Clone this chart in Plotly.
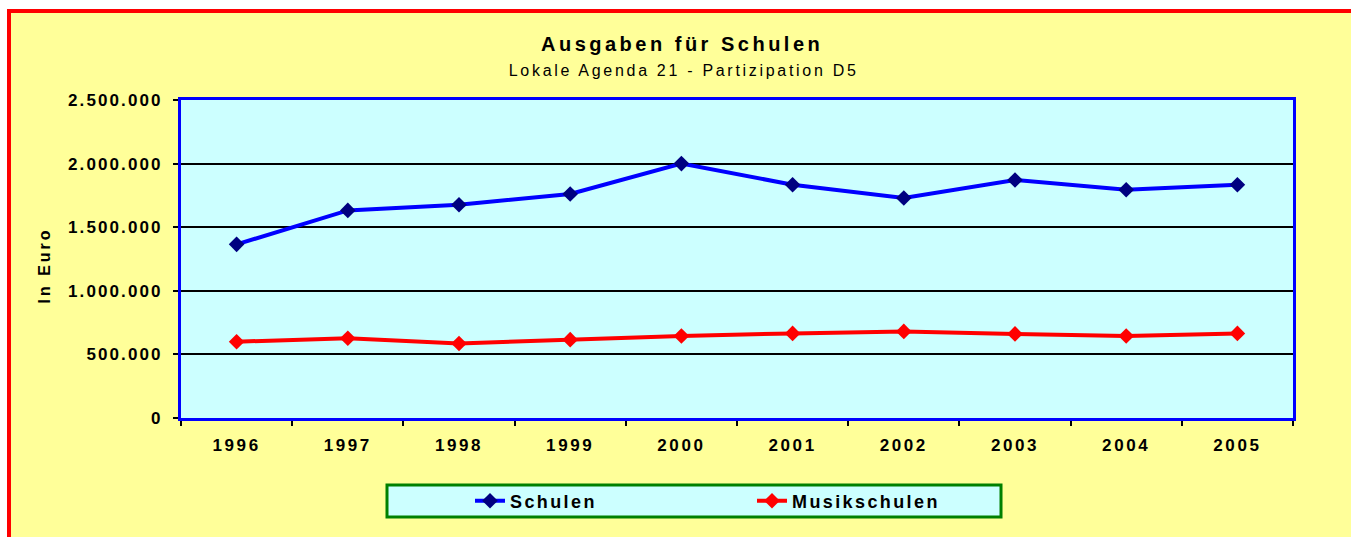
import json
import plotly.graph_objects as go

# ---- data ----
years = ["1996", "1997", "1998", "1999", "2000", "2001", "2002", "2003", "2004", "2005"]
schulen = [1365000, 1632000, 1677000, 1761000, 2000000, 1834000, 1729000, 1871000, 1794000, 1834000]
musikschulen = [600000, 627000, 586000, 616000, 645000, 665000, 681000, 661000, 645000, 665000]
y_ticks = [0, 500000, 1000000, 1500000, 2000000, 2500000]

title_text = "Ausgaben für Schulen"
subtitle_text = "Lokale Agenda 21 - Partizipation D5"
ylabel_text = "In Euro"

# ---- layout geometry (pixels) ----
W, H = 1351, 537
L, R, T, B = 181, 1293, 100, 418
PW, PH = R - L, B - T


def px(x):
    return (x - L) / PW


def py(y):
    return (B - y) / PH


FONT = "Arial, 'Liberation Sans', sans-serif"

fig = go.Figure()
fig.add_trace(go.Scatter(
    x=years, y=schulen, name="Schulen", mode="lines+markers",
    line=dict(color="#0000FF", width=4),
    marker=dict(symbol="diamond", size=12, color="#000080", line=dict(width=0)),
))
fig.add_trace(go.Scatter(
    x=years, y=musikschulen, name="Musikschulen", mode="lines+markers",
    line=dict(color="#FF0000", width=4),
    marker=dict(symbol="diamond", size=12, color="#FF0000", line=dict(width=0)),
))

shapes = [
    # white strips outside the red frame
    dict(type="rect", xref="paper", yref="paper", x0=px(0), x1=px(W), y0=py(0), y1=py(9),
         fillcolor="white", line=dict(width=0), layer="below"),
    dict(type="rect", xref="paper", yref="paper", x0=px(0), x1=px(7), y0=py(0), y1=py(H),
         fillcolor="white", line=dict(width=0), layer="below"),
    # red frame
    dict(type="rect", xref="paper", yref="paper", x0=px(9), x1=px(W + 20), y0=py(11), y1=py(H + 20),
         fillcolor="rgba(0,0,0,0)", line=dict(color="#FF0000", width=4), layer="above"),
    # legend box
    dict(type="rect", xref="paper", yref="paper", x0=px(387), x1=px(1001), y0=py(485), y1=py(517),
         fillcolor="#CCFFFF", line=dict(color="#008000", width=3), layer="above"),
]

annotations = [
    dict(text="<b>" + title_text + "</b>", x=px(682), y=py(44), xref="paper", yref="paper",
         xanchor="center", yanchor="middle", showarrow=False,
         font=dict(family=FONT, size=20, color="black")),
    dict(text=subtitle_text, x=px(683), y=py(70), xref="paper", yref="paper",
         xanchor="center", yanchor="middle", showarrow=False,
         font=dict(family=FONT, size=16, color="black")),
    dict(text="<b>" + ylabel_text + "</b>", x=px(44), y=py(266), xref="paper", yref="paper",
         xanchor="center", yanchor="middle", showarrow=False, textangle=-90,
         font=dict(family=FONT, size=16, color="black")),
]

fig.update_layout(
    width=W, height=H,
    margin=dict(l=L, r=W - R, t=T, b=H - B, pad=0),
    paper_bgcolor="#FFFF99",
    plot_bgcolor="#CCFFFF",
    separators=",.",
    font=dict(family=FONT, color="black"),
    showlegend=True,
    legend=dict(orientation="h", x=px(470), xanchor="left", y=py(501), yanchor="middle",
                bgcolor="rgba(0,0,0,0)", borderwidth=0, entrywidth=237,
                font=dict(family=FONT, size=18, color="black", weight="bold")),
    shapes=shapes,
    annotations=annotations,
    hovermode=False,
)

fig.update_xaxes(
    type="category", range=[-0.5, len(years) - 0.5], tickson="boundaries",
    showline=True, linecolor="#0000FF", linewidth=3, mirror=True,
    ticks="outside", ticklen=5, tickwidth=1.5, tickcolor="black",
    showgrid=False, zeroline=False, ticklabelstandoff=10,
    tickfont=dict(family=FONT, size=17, color="black", weight="bold"),
)
fig.update_yaxes(
    range=[0, 2500000], tickvals=y_ticks, tickformat=",.0f",
    showline=True, linecolor="#0000FF", linewidth=3, mirror=True,
    ticks="outside", ticklen=5, tickwidth=1.5, tickcolor="black",
    showgrid=True, gridcolor="black", gridwidth=1.5, zeroline=False,
    ticklabelstandoff=7,
    tickfont=dict(family=FONT, size=17, color="black", weight="bold"),
)

spacing = {title_text: "3.5px", subtitle_text: "2.7px", ylabel_text: "3px"}
post = """
document.body.style.margin = '0';
document.body.style.overflow = 'hidden';
var gd = document.getElementById('{plot_id}');
var ann = %s;
function applySpacing() {
  var setAll = function(sel, v) {
    gd.querySelectorAll(sel).forEach(function(t) { t.style.letterSpacing = v; });
  };
  setAll('.xtick text', '2.6px');
  setAll('.ytick text', '2.1px');
  setAll('.legendtext', '2.4px');
  gd.querySelectorAll('.annotation-text').forEach(function(t) {
    var s = t.textContent;
    if (ann[s]) { t.style.letterSpacing = ann[s]; }
  });
}
applySpacing();
gd.on('plotly_afterplot', applySpacing);
""" % json.dumps(spacing)

fig.write_html("out.html", post_script=post, config={"displayModeBar": False})
